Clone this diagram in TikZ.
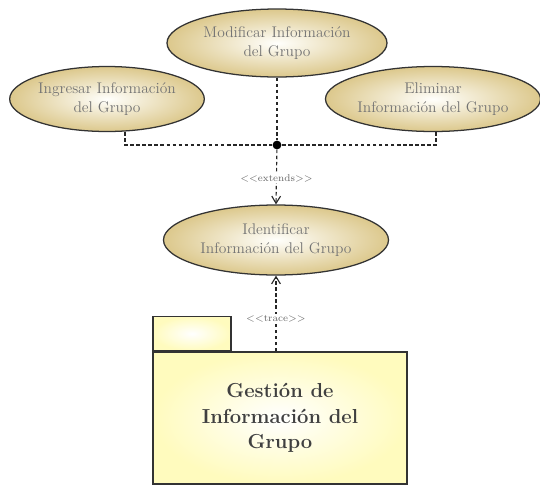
\documentclass[tikz,border=0pt]{standalone}
\usepackage{tikz}
\usetikzlibrary{arrows.meta,positioning,shapes.geometric,calc}
\definecolor{ucouter}{RGB}{220,200,140}
\definecolor{ucinner}{RGB}{255,255,252}
\definecolor{pkgfill}{RGB}{255,251,190}
\tikzset{
  uc/.style={ellipse, draw=black!80, line width=0.9pt, inner sep=0pt,
             shading=radial, inner color=ucinner, outer color=ucouter,
             align=center, text=black!55, font=\fontsize{11}{14}\selectfont},
  pkgbody/.style={rectangle, draw=black!80, line width=1pt, inner sep=0pt,
                  shading=radial, inner color=white, outer color=pkgfill,
                  minimum width=6.35cm, minimum height=3.3cm, align=center,
                  text=black!75, font=\Large\bfseries},
  pkgtab/.style={rectangle, draw=black!80, line width=1pt, inner sep=0pt,
                 shading=radial, inner color=white, outer color=pkgfill,
                 minimum width=1.95cm, minimum height=0.85cm},
  dep/.style={draw=black!85, line width=0.8pt, dash pattern=on 2.5pt off 1.8pt},
  deparr/.style={dep, -{Straight Barb[length=1.8mm, width=2.2mm]}},
  stereo/.style={fill=white, inner sep=1pt, text=black!60, font=\scriptsize},
  joint/.style={circle, fill=black, inner sep=0pt, minimum size=2.2mm},
}
\newcommand{\stl}{\textless\kern0pt\textless}
\newcommand{\str}{\textgreater\kern0pt\textgreater}

\begin{document}
\begin{tikzpicture}
\useasboundingbox (0,0) rectangle (13.5,-12.175);

%% extending use cases
\node[uc, minimum width=5.5cm,   minimum height=1.7cm]   (mod) at (6.925,-1.075) {Modificar Información\\del Grupo};
\node[uc, minimum width=4.675cm, minimum height=1.625cm] (ing) at (2.675,-2.475) {Ingresar Información\\del Grupo};
\node[uc, minimum width=5.375cm, minimum height=1.625cm] (eli) at (10.825,-2.475) {Eliminar\\Información del Grupo};

%% base use case
\node[uc, minimum width=5.625cm, minimum height=1.75cm] (ide) at (6.9,-6.0) {Identificar\\Información del Grupo};

%% joint of the three extend lines
\node[joint] (dot) at (6.925,-3.625) {};

\draw[dep] ($(ing.south)+(0.45,0)$) |- (dot);
\draw[dep] ($(eli.south)+(0.075,0)$) |- (dot);
\draw[dep] (mod.south) -- (dot);
\draw[deparr] (dot) -- node[stereo, pos=0.52] (ext) {\stl extends\str} (ide.north);

%% package
\node[pkgbody] (pkg) at (7.0,-10.45) {Gestión de\\Información del\\Grupo};
\node[pkgtab, anchor=south west] (tab) at (pkg.north west) {};

\draw[deparr] (ide.south |- pkg.north) -- node[stereo, pos=0.43] (trc) {\stl trace\str} (ide.south);

\end{tikzpicture}
\end{document}
